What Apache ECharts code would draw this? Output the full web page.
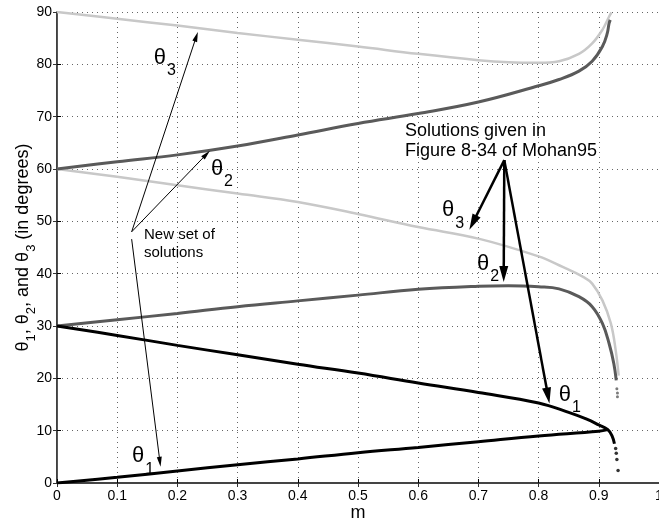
<!DOCTYPE html>
<html>
<head>
<meta charset="utf-8">
<script src="https://cdn.jsdelivr.net/npm/echarts@6/dist/echarts.min.js"></script>
<style>
  html, body { margin: 0; padding: 0; background: #fff; }
  #chart { width: 659px; height: 521px; }
</style>
</head>
<body>
<div id="chart"></div>
<script>
// values (m on x, angle in degrees on y)
const xTicks = [0, 0.1, 0.2, 0.3, 0.4, 0.5, 0.6, 0.7, 0.8, 0.9, 1]
const yTicks = [0, 10, 20, 30, 40, 50, 60, 70, 80, 90]

const t1NewM = [0, 0.1, 0.2, 0.3, 0.4, 0.5, 0.6, 0.7, 0.8, 0.9, 0.915]
const t1NewV = [0, 1.1, 2.3, 3.5, 4.6, 5.8, 6.8, 7.9, 9.0, 9.9, 10.2]

const t2NewM = [0, 0.1, 0.2, 0.3, 0.4, 0.5, 0.6, 0.7, 0.8, 0.834, 0.867, 0.889, 0.906, 0.914, 0.917, 0.919]
const t2NewV = [60, 61.4, 62.7, 64.4, 66.5, 68.7, 70.6, 72.8, 75.9, 77.1, 78.7, 80.6, 83.4, 85.9, 87.8, 88.5]

const t3NewM = [0, 0.1, 0.2, 0.3, 0.4, 0.5, 0.6, 0.7, 0.75, 0.8, 0.834, 0.867, 0.889, 0.906, 0.917, 0.921]
const t3NewV = [90, 88.7, 87.4, 86.0, 84.7, 83.4, 82.0, 80.8, 80.4, 80.3, 80.6, 82.0, 84.0, 86.6, 89.1, 89.9]

const t1OldM = [0, 0.1, 0.2, 0.3, 0.4, 0.5, 0.6, 0.7, 0.8, 0.85, 0.88, 0.9, 0.915, 0.922, 0.926]
const t1OldV = [30, 28.2, 26.3, 24.5, 22.7, 21.0, 19.1, 17.3, 15.3, 13.5, 12.2, 11.1, 10.2, 9.0, 7.5]
const t1TailM = [0.928, 0.929, 0.930, 0.932]
const t1TailV = [6.6, 5.7, 4.5, 2.4]

const t2OldM = [0, 0.1, 0.2, 0.3, 0.4, 0.5, 0.6, 0.7, 0.75, 0.8, 0.834, 0.867, 0.889, 0.906, 0.917, 0.925, 0.929]
const t2OldV = [30, 31.2, 32.4, 33.7, 34.8, 35.9, 37.0, 37.6, 37.7, 37.5, 37.1, 35.6, 33.7, 30.5, 26.7, 22.8, 19.6]
const t2TailM = [0.930, 0.931, 0.931]
const t2TailV = [18.0, 17.2, 16.5]

const t3OldM = [0, 0.1, 0.2, 0.3, 0.4, 0.5, 0.6, 0.7, 0.8, 0.84, 0.874, 0.889, 0.906, 0.92, 0.928, 0.933]
const t3OldV = [60, 58.5, 56.9, 55.3, 53.7, 51.4, 48.9, 46.7, 43.3, 41.3, 39.4, 38.1, 34.9, 30.5, 25.4, 20.5]

const BLACK = '#000'
const DARK = '#5a5a5a'
const LIGHT = '#c8c8c8'
const FONT = 'Liberation Sans, Arial, sans-serif'

// plot area, used only to pull arrow ends back by half the head length
const GRID = { left: 57, right: 0, top: 12, bottom: 38 }
const pxX = (659 - GRID.left - GRID.right) / 1
const pxY = (521 - GRID.top - GRID.bottom) / 90

function zip(xs, ys) {
  return xs.map((x, i) => [x, ys[i]])
}

function arrow(from, to, width, head, pull) {
  const dx = (to[0] - from[0]) * pxX
  const dy = (to[1] - from[1]) * pxY
  const len = Math.sqrt(dx * dx + dy * dy)
  const k = (len - pull) / len
  const end = [from[0] + (to[0] - from[0]) * k, from[1] + (to[1] - from[1]) * k]
  return [
    { coord: from, symbol: 'none' },
    { coord: end, symbol: 'triangle', symbolSize: head, lineStyle: { color: BLACK, width: width, type: 'solid' } },
  ]
}

function thetaLabel(coord, n) {
  return {
    coord: coord,
    symbol: 'rect',
    symbolSize: 0,
    label: {
      show: true,
      position: 'inside',
      formatter: '{t|θ}{s|' + n + '}',
      rich: {
        t: { fontSize: 22, lineHeight: 22, verticalAlign: 'top', fontFamily: FONT, color: BLACK },
        s: { fontSize: 16, lineHeight: 16, verticalAlign: 'top', padding: [16, 0, 0, 1], fontFamily: FONT, color: BLACK },
      },
    },
  }
}

function textNote(coord, text, size, lh) {
  return {
    coord: coord,
    symbol: 'rect',
    symbolSize: 0,
    label: {
      show: true,
      position: 'inside',
      align: 'left',
      verticalAlign: 'top',
      formatter: text,
      fontSize: size,
      lineHeight: lh,
      fontFamily: FONT,
      color: BLACK,
    },
  }
}

const newFrom = [0.124, 48.0]
const oldFrom = [0.743, 61.7]

const arrows = [
  arrow(newFrom, [0.234, 86.2], 1, [5, 10], 5),
  arrow(newFrom, [0.254, 63.5], 1, [5, 10], 5),
  arrow([0.124, 46.6], [0.172, 3.1], 1, [5, 10], 5),
  arrow(oldFrom, [0.685, 48.4], 2.5, [9, 16], 8),
  arrow(oldFrom, [0.742, 38.4], 2.5, [9, 16], 8),
  arrow(oldFrom, [0.818, 15.2], 2.5, [9, 16], 8),
]

const notes = [
  thetaLabel([0.179, 81.3], 3),
  thetaLabel([0.274, 60.0], 2),
  thetaLabel([0.143, 5.1], 1),
  thetaLabel([0.658, 52.1], 3),
  thetaLabel([0.716, 41.9], 2),
  thetaLabel([0.852, 16.8], 1),
  textNote([0.1445, 49.2], 'New set of\nsolutions', 15, 18),
  textNote([0.578, 69.2], 'Solutions given in\nFigure 8-34 of Mohan95', 18, 20),
]

function curve(name, xs, ys, color, width, z) {
  return {
    name: name,
    type: 'line',
    data: zip(xs, ys),
    showSymbol: false,
    smooth: 0.4,
    z: z,
    lineStyle: { color: color, width: width },
    silent: true,
  }
}

function dots(name, xs, ys, color, size, z) {
  return {
    name: name,
    type: 'scatter',
    data: zip(xs, ys),
    symbolSize: size,
    z: z,
    itemStyle: { color: color },
    silent: true,
  }
}

const chart = echarts.init(document.getElementById('chart'), null, { renderer: 'canvas' })

const dotted = () => ({ show: true, lineStyle: { color: '#666', width: 1, type: [1, 4] } })
const tickFmt = (v) => (v === 0 || v === 1 ? String(v) : v.toFixed(1))

chart.setOption({
  animation: false,
  backgroundColor: '#fff',
  grid: {
    left: GRID.left, right: GRID.right, top: GRID.top, bottom: GRID.bottom,
    containLabel: false, outerBoundsMode: 'none',
  },
  xAxis: [
    {
      type: 'value', min: xTicks[0], max: xTicks[xTicks.length - 1], interval: 0.1,
      position: 'bottom',
      name: 'm', nameLocation: 'middle', nameGap: 21, nameMoveOverlap: false,
      nameTextStyle: { fontSize: 18, fontFamily: FONT, color: BLACK },
      axisLine: { lineStyle: { color: BLACK, width: 1.5 } },
      axisTick: { inside: true, length: 4, lineStyle: { color: BLACK } },
      axisLabel: { fontSize: 14, fontFamily: FONT, color: BLACK, margin: 6, formatter: tickFmt },
      splitLine: dotted(),
    },
    {
      type: 'value', min: xTicks[0], max: xTicks[xTicks.length - 1], interval: 0.1,
      position: 'top',
      axisLine: { lineStyle: { color: '#444', width: 2 } },
      axisTick: { inside: true, length: 4, lineStyle: { color: '#333' } },
      axisLabel: { show: false },
      splitLine: { show: false },
    },
  ],
  yAxis: [
    {
      type: 'value', min: yTicks[0], max: yTicks[yTicks.length - 1], interval: 10,
      position: 'left',
      name: '{a|θ}{s|1}{a|, θ}{s|2}{a|, and θ}{s|3}{a| (in degrees)}',
      nameLocation: 'middle', nameGap: 22, nameMoveOverlap: false,
      nameTextStyle: {
        rich: {
          a: { fontSize: 18, lineHeight: 21, verticalAlign: 'top', fontFamily: FONT, color: BLACK },
          s: { fontSize: 13, lineHeight: 13, verticalAlign: 'top', padding: [11, 0, 0, 0], fontFamily: FONT, color: BLACK },
        },
      },
      axisLine: { show: true, lineStyle: { color: BLACK, width: 1.5 } },
      axisTick: { show: true, inside: true, length: 4, lineStyle: { color: BLACK } },
      axisLabel: { fontSize: 14, fontFamily: FONT, color: BLACK, margin: 5 },
      splitLine: dotted(),
    },
    {
      type: 'value', min: yTicks[0], max: yTicks[yTicks.length - 1], interval: 10,
      position: 'right',
      axisLine: { show: true, lineStyle: { color: '#555', width: 1 } },
      axisTick: { show: true, inside: true, length: 4, lineStyle: { color: '#333' } },
      axisLabel: { show: false },
      splitLine: { show: false },
    },
  ],
  series: [
    curve('theta3 new', t3NewM, t3NewV, LIGHT, 2.5, 2),
    curve('theta3 Mohan95', t3OldM, t3OldV, LIGHT, 2.5, 2),
    curve('theta2 new', t2NewM, t2NewV, DARK, 3, 3),
    curve('theta2 Mohan95', t2OldM, t2OldV, DARK, 3, 3),
    dots('theta2 tail', t2TailM, t2TailV, DARK, 3, 3),
    curve('theta1 Mohan95', t1OldM, t1OldV, BLACK, 3, 4),
    dots('theta1 tail', t1TailM, t1TailV, BLACK, 3.5, 4),
    Object.assign(curve('theta1 new', t1NewM, t1NewV, BLACK, 3, 4), {
      markLine: {
        silent: true,
        animation: false,
        label: { show: false },
        symbol: ['none', 'triangle'],
        data: arrows,
      },
      markPoint: {
        silent: true,
        animation: false,
        data: notes,
      },
    }),
  ],
})
</script>
</body>
</html>
